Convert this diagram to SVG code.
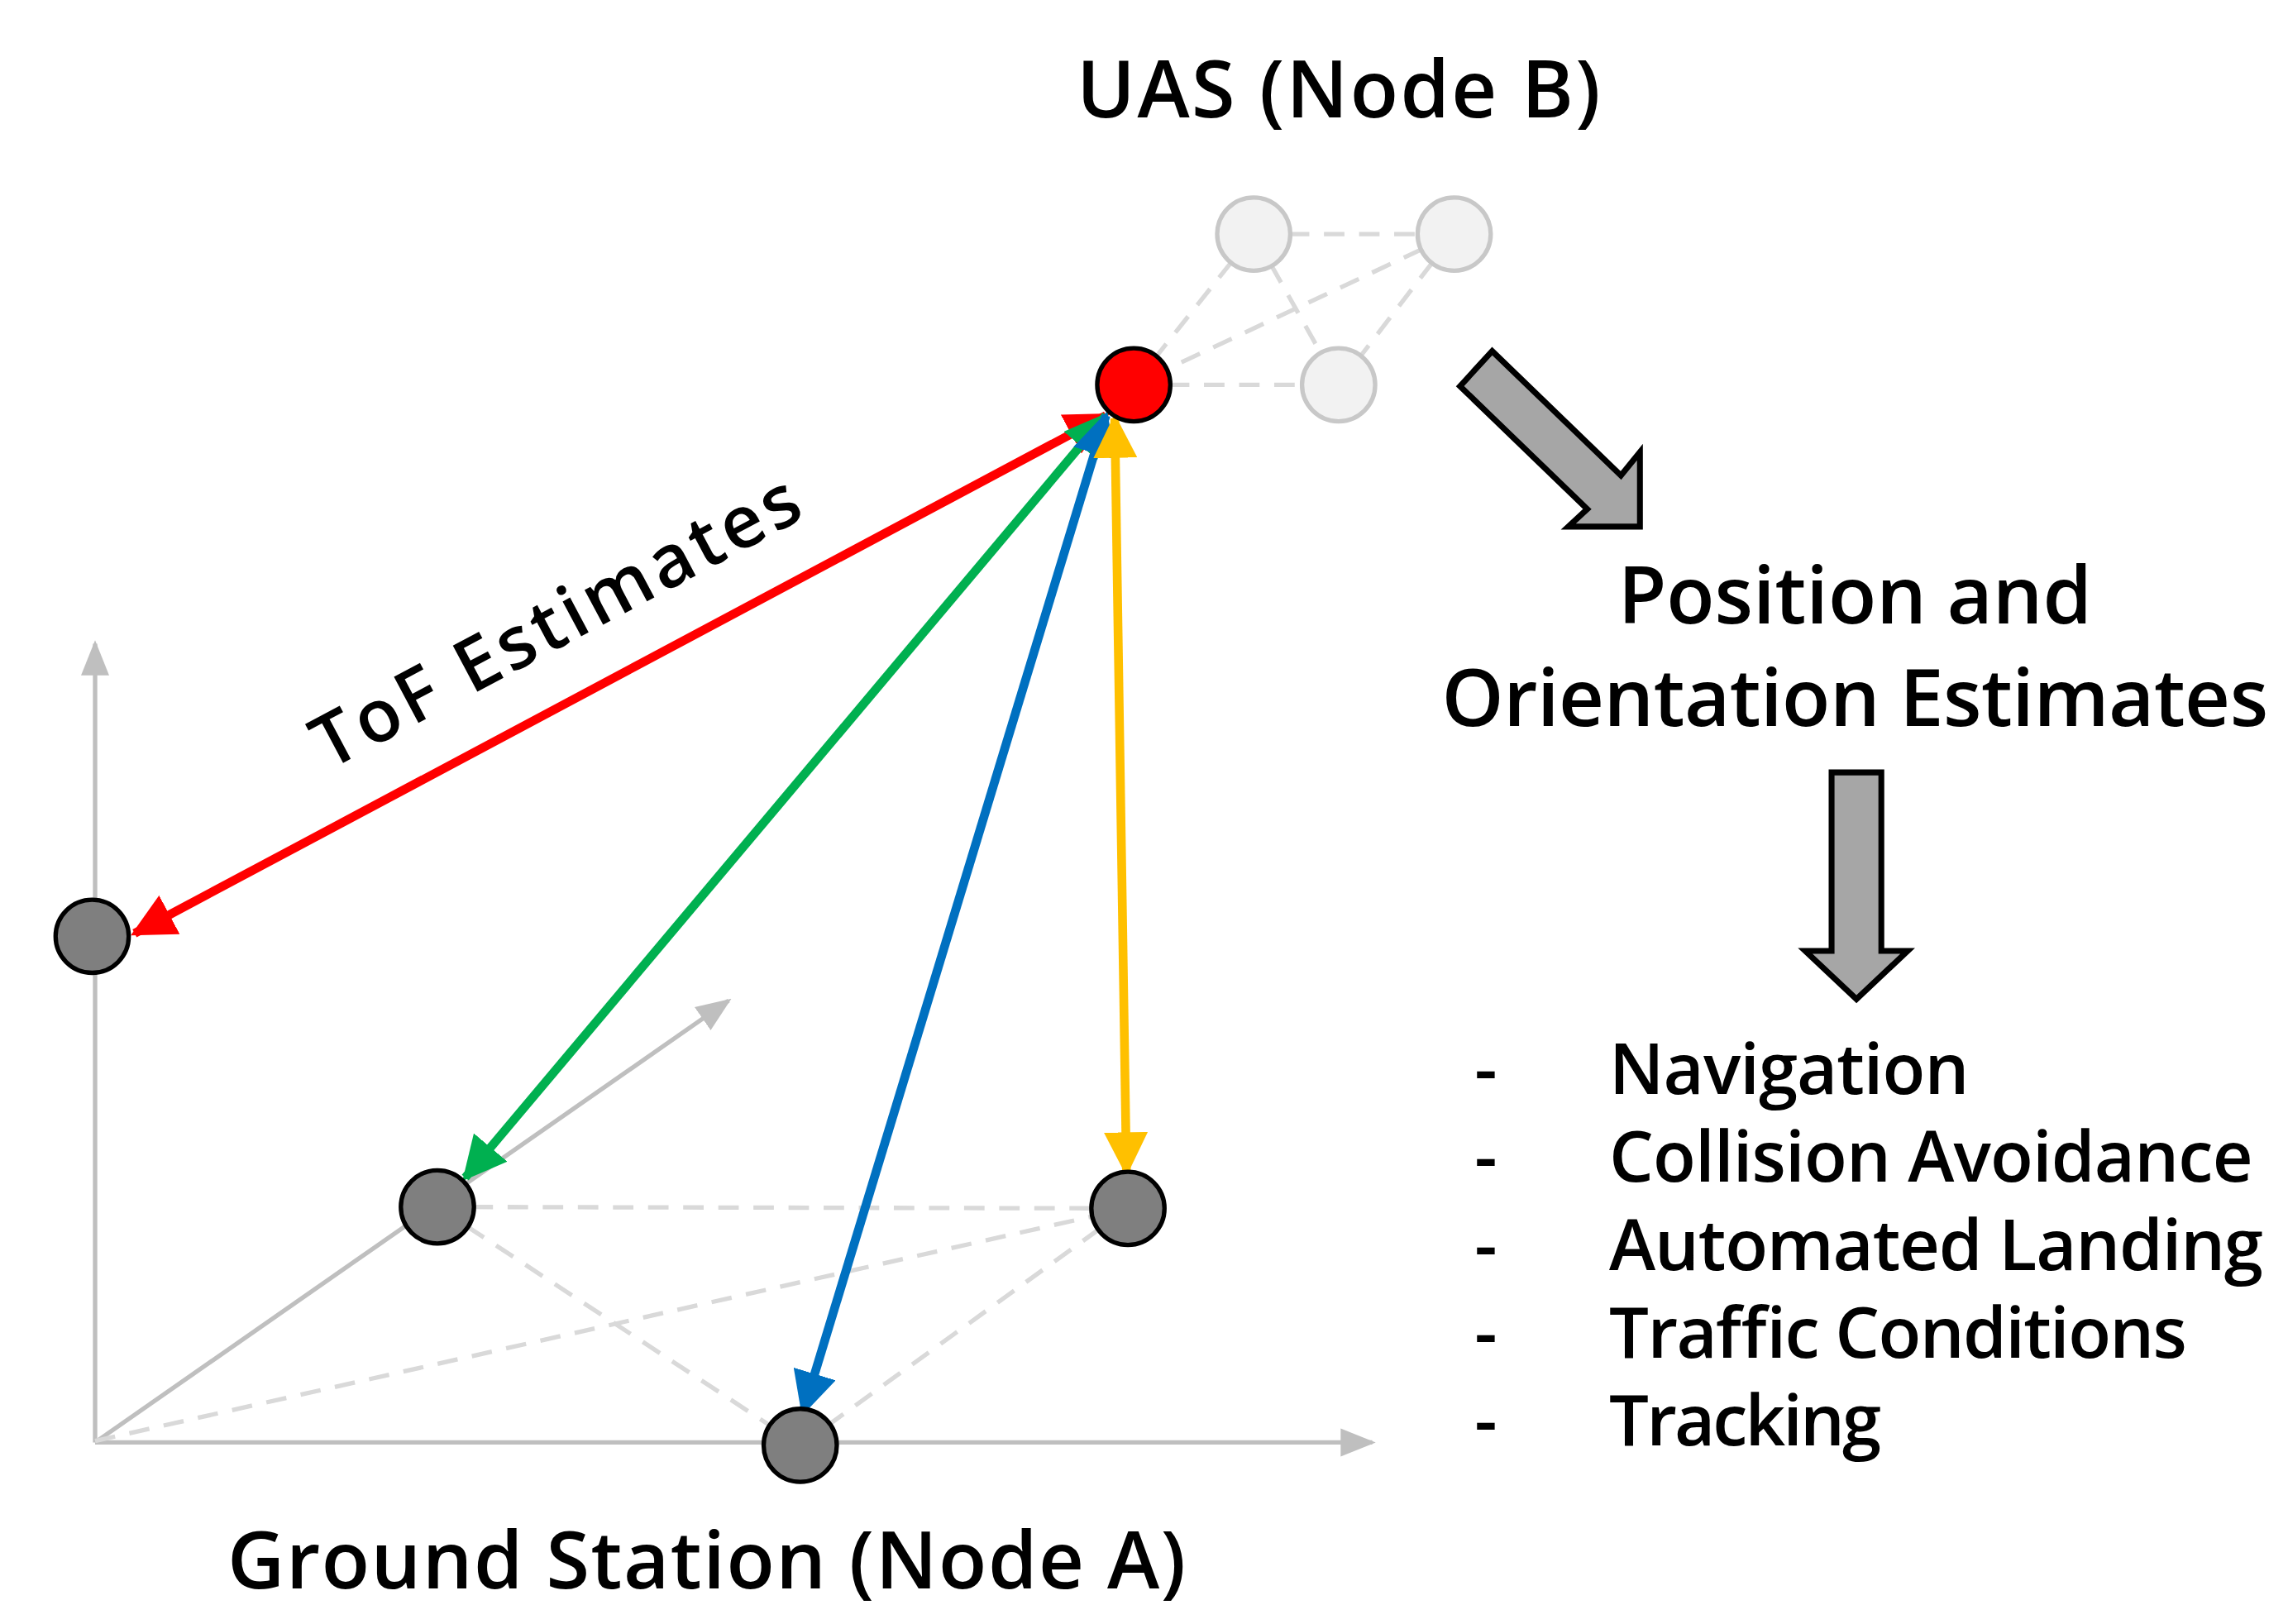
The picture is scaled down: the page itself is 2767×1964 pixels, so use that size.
<svg xmlns="http://www.w3.org/2000/svg" width="2767" height="1964" viewBox="0 0 2767 1964">
<style>
.t{font-family:"Open Sans","Noto Sans",sans-serif;fill:#000;font-weight:600}
.gh{fill:#f2f2f2;stroke:#c8c8c8;stroke-width:3}
.gn{fill:#7f7f7f;stroke:#000;stroke-width:3}
.ds{stroke:#d9d9d9;stroke-width:3;stroke-dasharray:14 10;fill:none}
.ax{stroke:#bfbfbf;stroke-width:3;fill:none}
.big{fill:#a6a6a6;stroke:#000;stroke-width:4;stroke-linejoin:miter}
</style>
<defs>
<marker id="ma" viewBox="0 0 10 10" refX="9" refY="5" markerWidth="8" markerHeight="8" orient="auto"><path d="M0,1 L10,5 L0,9 Z" fill="#bfbfbf"/></marker>
<marker id="mr" viewBox="0 0 10 10" refX="9" refY="5" markerWidth="5" markerHeight="5" orient="auto-start-reverse"><path d="M0,0 L10,5 L0,10 Z" fill="#ff0000"/></marker>
<marker id="mg" viewBox="0 0 10 10" refX="9" refY="5" markerWidth="5" markerHeight="5" orient="auto-start-reverse"><path d="M0,0 L10,5 L0,10 Z" fill="#00b050"/></marker>
<marker id="mb" viewBox="0 0 10 10" refX="9" refY="5" markerWidth="5" markerHeight="5" orient="auto-start-reverse"><path d="M0,0 L10,5 L0,10 Z" fill="#0070c0"/></marker>
<marker id="my" viewBox="0 0 10 10" refX="9" refY="5" markerWidth="5" markerHeight="5" orient="auto-start-reverse"><path d="M0,0 L10,5 L0,10 Z" fill="#ffc000"/></marker>
</defs>
<rect width="2767" height="1964" fill="#fff"/>
<g transform="scale(1.7692)">
<g id="connectors">
<line class="ax" x1="65" y1="986" x2="65" y2="440" marker-end="url(#ma)"/>
<line class="ax" x1="65" y1="986" x2="938" y2="986" marker-end="url(#ma)"/>
<line class="ax" x1="65" y1="986" x2="498" y2="684" marker-end="url(#ma)"/>
<line class="ds" x1="299" y1="825" x2="771" y2="826"/>
<line class="ds" x1="299" y1="825" x2="547" y2="988"/>
<line class="ds" x1="771" y1="826" x2="547" y2="988"/>
<line class="ds" x1="65" y1="985" x2="771" y2="826"/>
<line class="ds" x1="857" y1="160" x2="994" y2="160"/>
<line class="ds" x1="857" y1="160" x2="775" y2="263"/>
<line class="ds" x1="857" y1="160" x2="915" y2="263"/>
<line class="ds" x1="994" y1="160" x2="775" y2="263"/>
<line class="ds" x1="994" y1="160" x2="915" y2="263"/>
<line class="ds" x1="775" y1="263" x2="915" y2="263"/>
<line x1="92" y1="638" x2="756" y2="284" stroke="#ff0000" stroke-width="6" marker-start="url(#mr)" marker-end="url(#mr)"/>
<line x1="318" y1="805" x2="756" y2="284" stroke="#00b050" stroke-width="6" marker-start="url(#mg)" marker-end="url(#mg)"/>
<line x1="549" y1="965" x2="756" y2="284" stroke="#0070c0" stroke-width="6" marker-start="url(#mb)" marker-end="url(#mb)"/>
<line x1="770" y1="801" x2="762" y2="286" stroke="#ffc000" stroke-width="6" marker-start="url(#my)" marker-end="url(#my)"/>
<polygon class="big" points="998,264 1020,240 1108,325 1121,309 1121,360 1072,360 1085,348"/>
<polygon class="big" points="1252,528 1286,528 1286,650 1304,650 1269,683 1234,650 1252,650"/>
</g>
<g id="uas-ghost1"><ellipse class="gh" cx="857" cy="160" rx="25" ry="25"/></g>
<g id="uas-ghost2"><ellipse class="gh" cx="994" cy="160" rx="25" ry="25"/></g>
<g id="uas-ghost3"><ellipse class="gh" cx="915" cy="263" rx="25" ry="25"/></g>
<g id="uas"><ellipse cx="775" cy="263" rx="25" ry="25" fill="#ff0000" stroke="#000" stroke-width="3"/></g>
<g id="gs1"><ellipse class="gn" cx="63" cy="640" rx="25" ry="25"/></g>
<g id="gs2"><ellipse class="gn" cx="299" cy="825" rx="25" ry="25"/></g>
<g id="gs3"><ellipse class="gn" cx="771" cy="826" rx="25" ry="25"/></g>
<g id="gs4"><ellipse class="gn" cx="547" cy="988" rx="25" ry="25"/></g>
<g id="labels">
<text class="t" x="915" y="80" font-size="54" text-anchor="middle" textLength="358">UAS (Node B)</text>
<text class="t" x="483" y="1086" font-size="54" text-anchor="middle" textLength="655">Ground Station (Node A)</text>
<text class="t" x="388" y="440" font-size="50" text-anchor="middle" transform="rotate(-28 388 440)" textLength="370">ToF Estimates</text>
<text class="t" x="1268" y="426" font-size="54" text-anchor="middle" textLength="324">Position and</text>
<text class="t" x="1268" y="496" font-size="54" text-anchor="middle" textLength="565">Orientation Estimates</text>
<g font-size="48">
<text class="t" x="1008" y="748">-</text><text class="t" x="1100" y="748" textLength="246">Navigation</text>
<text class="t" x="1008" y="808">-</text><text class="t" x="1100" y="808" textLength="440">Collision Avoidance</text>
<text class="t" x="1008" y="868">-</text><text class="t" x="1100" y="868" textLength="447">Automated Landing</text>
<text class="t" x="1008" y="928">-</text><text class="t" x="1100" y="928" textLength="395">Traffic Conditions</text>
<text class="t" x="1008" y="988">-</text><text class="t" x="1100" y="988" textLength="186">Tracking</text>
</g>
</g>
</g>
</svg>
